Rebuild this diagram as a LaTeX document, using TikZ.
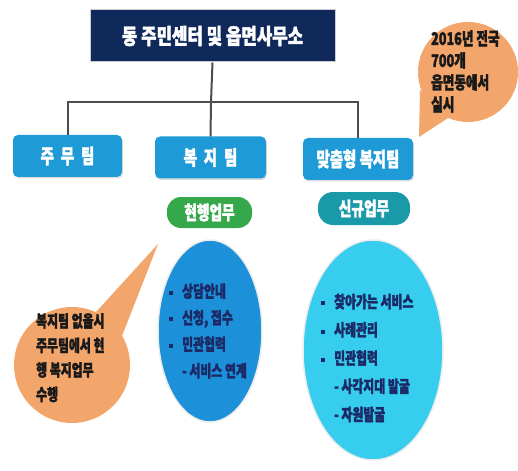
\documentclass[tikz,border=0pt]{standalone}
\usepackage{fontspec}
\newfontfamily\kr{Noto Sans CJK KR}[FakeStretch=0.78, BoldFeatures={FakeBold=1.8}]
\newfontfamily\krn{Noto Sans CJK KR}[FakeStretch=0.72, BoldFeatures={FakeBold=1.8}]
\usetikzlibrary{shadows}
\definecolor{navy}{HTML}{0F2A5A}
\definecolor{teamblue}{HTML}{1E9BD7}
\definecolor{grn}{HTML}{35A84B}
\definecolor{tealc}{HTML}{1A9AA8}
\definecolor{ellblue}{HTML}{1C90D8}
\definecolor{ellcyan}{HTML}{36CDEE}
\definecolor{orng}{HTML}{F3A66C}
\definecolor{txtnavy}{HTML}{1B2A66}
\definecolor{linegray}{HTML}{4D4D4D}
\tikzset{
  teambox/.style={fill=teamblue, rounded corners=5pt, text=white, inner sep=0pt,
    font=\krn\bfseries\fontsize{20}{20}\selectfont, minimum height=42pt,
    drop shadow={opacity=.25, shadow xshift=1pt, shadow yshift=-1.5pt}},
  pill/.style={rounded corners=14pt, text=white, inner sep=0pt,
    font=\krn\bfseries\fontsize{19}{19}\selectfont},
  conn/.style={draw=linegray, line width=2pt},
  elltext/.style={align=left, inner sep=0pt, text=txtnavy, anchor=west},
  bubtext/.style={align=left, inner sep=0pt, text=black!90, anchor=north west},
}
\newcommand{\bul}{\makebox[13pt][l]{\raisebox{2.5pt}{\rule{3.5pt}{4pt}}}}
\newcommand{\ind}{\hspace*{13pt}}
\begin{document}
\begin{tikzpicture}[x=1pt,y=-1pt]
\useasboundingbox (0,0) rectangle (518,470);
\fill[white] (0,0) rectangle (518,470);

% title
\node[fill=navy, draw=gray!40, line width=1pt, minimum width=245pt, minimum height=52pt, inner sep=0pt,
  text=white, font=\kr\bfseries\fontsize{21.5}{21.5}\selectfont] (top) at (212.5,36) {동 주민센터 및 읍면사무소};

% teams
\node[teambox, minimum width=109pt] (jm) at (67.5,156) {주\hspace{7pt}무\hspace{7pt}팀};
\node[teambox, minimum width=111pt] (bj) at (210.5,157.5) {복\hspace{7pt}지\hspace{7pt}팀};
\node[teambox, minimum width=110pt] (mc) at (358,159) {맞춤형 복지팀};

% connectors
\coordinate (hub) at (211,102);
\draw[conn] (top.south) -- (hub);
\draw[conn] (jm.north) -- (jm.north |- hub) -- (mc.north |- hub) -- (mc.north);
\draw[conn] (hub) -- (bj.north);

% pills
\node[pill, fill=grn, minimum width=85pt, minimum height=31pt] (hh) at (209.5,212.5) {현행업무};
\node[pill, fill=tealc, minimum width=92pt, minimum height=33pt, rounded corners=15pt] (sg) at (364,208.5) {신규업무};

% ellipses
\fill[ellblue, draw=white!85!gray, line width=1.5pt] (210,331) ellipse [x radius=52pt, y radius=91pt];
\coordinate (e1) at (210,331);
\fill[ellcyan, draw=white!85!gray, line width=1.5pt] (373,350) ellipse [x radius=70pt, y radius=110pt];
\coordinate (e2) at (373,350);

\node[elltext, font=\krn\bfseries\fontsize{16.5}{26.5}\selectfont] (t1) at (169,331)
  {\bul 상담안내\\\bul 신청, 접수\\\bul 민관협력\\\ind - 서비스 연계};
\node[elltext, font=\krn\bfseries\fontsize{16.5}{28.2}\selectfont] (t2) at (321,358)
  {\bul 찾아가는 서비스\\\bul 사례관리\\\bul 민관협력\\\ind - 사각지대 발굴\\\ind - 자원발굴};

% bubble top right
\fill[orng] (468,72) circle (50pt);
\fill[orng] (420,90) -- (419,137) -- (448,118) -- cycle;
\node[bubtext, font=\krn\bfseries\fontsize{17.5}{22}\selectfont] (b1) at (431,30)
  {2016년 전국\\700개\\읍면동에서\\실시};

% bubble bottom left
\fill[orng] (72,365) circle (58pt);
\fill[orng] (96,312) -- (158,244) -- (122,336) -- cycle;
\node[bubtext, font=\krn\bfseries\fontsize{16.5}{24.5}\selectfont] (b2) at (36,313)
  {복지팀 없을시\\주무팀에서 현\\행 복지업무\\수행};
\end{tikzpicture}
\end{document}
